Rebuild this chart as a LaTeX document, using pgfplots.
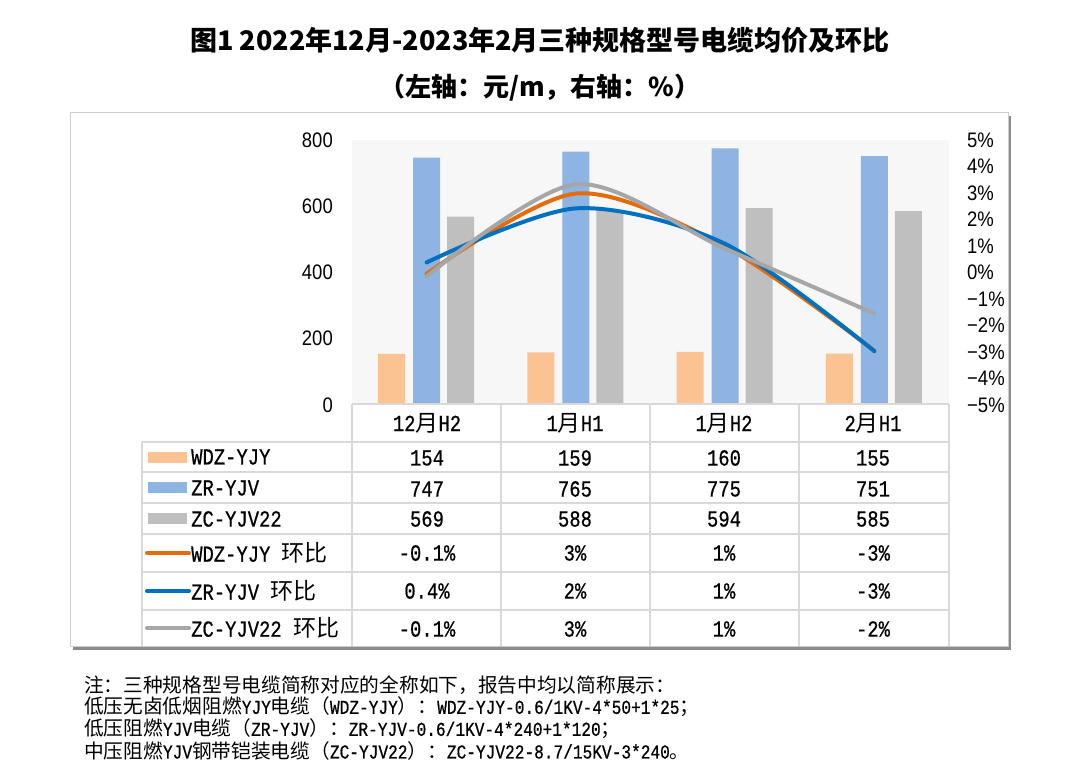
\documentclass[border=0pt]{standalone}
\usepackage{fontspec}
\setmainfont{Noto Sans CJK SC}
\newfontfamily\lm[FakeStretch=0.82,FakeBold=0.6]{Liberation Mono}
\newfontfamily\ls[FakeStretch=0.88]{Liberation Sans}
\usepackage{pgfplots}
\pgfplotsset{compat=1.18}
\definecolor{bO}{RGB}{250,195,145}
\definecolor{bB}{RGB}{142,180,227}
\definecolor{bG}{RGB}{191,191,191}
\definecolor{lO}{RGB}{228,108,10}
\definecolor{lB}{RGB}{0,112,192}
\definecolor{lG}{RGB}{166,166,166}
\definecolor{tgrid}{RGB}{217,217,217}
\definecolor{pbg}{RGB}{247,247,247}
\newcommand\m[1]{{\lm #1}}
\begin{document}
\begin{tikzpicture}
\useasboundingbox (0,0) rectangle (1080pt,780pt);
\begin{scope}[x=1pt,y=-1pt,shift={(0,780pt)}]
  % frame with shadow
  \fill[black!45] (73,116) rectangle (1011,650);
  \filldraw[fill=white, draw=black!20, line width=1pt] (70,113) rectangle (1008,647);
  % titles
  \node[font=\bfseries\fontsize{27}{30}\selectfont] at (540,40) {图1 2022年12月-2023年2月三种规格型号电缆均价及环比};
  \node[font=\bfseries\fontsize{26}{30}\selectfont] at (540,88) {（左轴：元/m，右轴：\%）};
  % footnote
  \begin{scope}[every node/.style={anchor=west, inner sep=0pt, font=\fontsize{19.7}{22}\selectfont}]
  \node at (84,685) {注：三种规格型号电缆简称对应的全称如下，报告中均以简称展示：};
  \node at (84,707) {低压无卤低烟阻燃\m{YJY}电缆（\m{WDZ-YJY}）：\m{WDZ-YJY-0.6/1KV-4*50+1*25}；};
  \node at (84,729) {低压阻燃\m{YJV}电缆（\m{ZR-YJV}）：\m{ZR-YJV-0.6/1KV-4*240+1*120}；};
  \node at (84,751) {中压阻燃\m{YJV}钢带铠装电缆（\m{ZC-YJV22}）：\m{ZC-YJV22-8.7/15KV-3*240}。};
  \end{scope}
\end{scope}

% bars (left axis)
\begin{axis}[
  at={(352pt,375pt)}, anchor=south west, scale only axis,
  width=597pt, height=265pt,
  xmin=-0.5, xmax=3.5, ymin=0, ymax=800,
  axis line style={draw=none},
  xtick=\empty,
  ytick={0,200,400,600,800},
  yticklabels={0,200,400,600,800},
  major tick length=0pt,
  yticklabel style={font=\ls\fontsize{21}{24}\selectfont, anchor=east, inner sep=0pt, xshift=-19pt},
  axis background/.style={fill=pbg},
]
\addplot[ybar, bar width=27pt, bar shift=-35pt, fill=bO, draw=none] coordinates {(0,154) (1,159) (2,160) (3,155)};
\addplot[ybar, bar width=27pt, bar shift=0pt, fill=bB, draw=none] coordinates {(0,747) (1,765) (2,775) (3,751)};
\addplot[ybar, bar width=27pt, bar shift=34pt, fill=bG, draw=none] coordinates {(0,569) (1,588) (2,594) (3,585)};
\end{axis}

% lines (right axis)
\begin{axis}[
  at={(352pt,375pt)}, anchor=south west, scale only axis,
  width=597pt, height=265pt,
  xmin=-0.5, xmax=3.5, ymin=-5, ymax=5,
  axis line style={draw=none},
  xtick=\empty,
  yticklabel pos=right,
  ytick={-5,-4,-3,-2,-1,0,1,2,3,4,5},
  yticklabels={−5\%,−4\%,−3\%,−2\%,−1\%,0\%,1\%,2\%,3\%,4\%,5\%},
  major tick length=0pt,
  yticklabel style={font=\ls\fontsize{21}{24}\selectfont, anchor=west, inner sep=0pt, xshift=18pt},
]
\addplot[lO, line width=4pt, smooth, line cap=round] coordinates {(0,-0.05) (1,2.98) (2,0.98) (3,-2.95)};
\addplot[lB, line width=4pt, smooth, line cap=round] coordinates {(0,0.38) (1,2.42) (2,1.08) (3,-2.97)};
\addplot[lG, line width=4pt, smooth, line cap=round] coordinates {(0,-0.15) (1,3.33) (2,0.9) (3,-1.55)};
\end{axis}

% data table
\begin{scope}[x=1pt,y=-1pt,shift={(0,780pt)}]
  \draw[tgrid, line width=2pt] (352,404)--(949,404);
  \foreach \yy in {442,472,503,534,572,610} \draw[tgrid, line width=2pt] (142,\yy)--(949,\yy);
  \draw[tgrid, line width=2pt] (142,442)--(142,646);
  \foreach \xx in {352,501,650,799,949} \draw[tgrid, line width=2pt] (\xx,404)--(\xx,646);
  \begin{scope}[every node/.style={font=\fontsize{23}{25}\selectfont, inner sep=0pt}]
  % header
  \node at (427,423) {\m{12}月\m{H2}};
  \node at (575,423) {\m{1}月\m{H1}};
  \node at (724,423) {\m{1}月\m{H2}};
  \node at (873,423) {\m{2}月\m{H1}};
  % legend keys
  \fill[bO] (148,452) rectangle (187,463);
  \fill[bB] (148,482) rectangle (187,493);
  \fill[bG] (148,513) rectangle (187,524);
  \draw[lO, line width=4pt, line cap=round] (147,553)--(189,553);
  \draw[lB, line width=4pt, line cap=round] (147,591)--(189,591);
  \draw[lG, line width=4pt, line cap=round] (147,628)--(189,628);
  % row labels
  \node[anchor=west] at (191,457) {\m{WDZ-YJY}};
  \node[anchor=west] at (191,488) {\m{ZR-YJV}};
  \node[anchor=west] at (191,519) {\m{ZC-YJV22}};
  \node[anchor=west] at (191,553) {\m{WDZ-YJY }环比};
  \node[anchor=west] at (191,591) {\m{ZR-YJV }环比};
  \node[anchor=west] at (191,628) {\m{ZC-YJV22 }环比};
  % values
  \node at (427,458) {\m{154}}; \node at (575,458) {\m{159}}; \node at (724,458) {\m{160}}; \node at (873,458) {\m{155}};
  \node at (427,489) {\m{747}}; \node at (575,489) {\m{765}}; \node at (724,489) {\m{775}}; \node at (873,489) {\m{751}};
  \node at (427,519) {\m{569}}; \node at (575,519) {\m{588}}; \node at (724,519) {\m{594}}; \node at (873,519) {\m{585}};
  \node at (427,553) {\m{-0.1\%}}; \node at (575,553) {\m{3\%}}; \node at (724,553) {\m{1\%}}; \node at (873,553) {\m{-3\%}};
  \node at (427,591) {\m{0.4\%}}; \node at (575,591) {\m{2\%}}; \node at (724,591) {\m{1\%}}; \node at (873,591) {\m{-3\%}};
  \node at (427,629) {\m{-0.1\%}}; \node at (575,629) {\m{3\%}}; \node at (724,629) {\m{1\%}}; \node at (873,629) {\m{-2\%}};
  \end{scope}
\end{scope}
\end{tikzpicture}
\end{document}
